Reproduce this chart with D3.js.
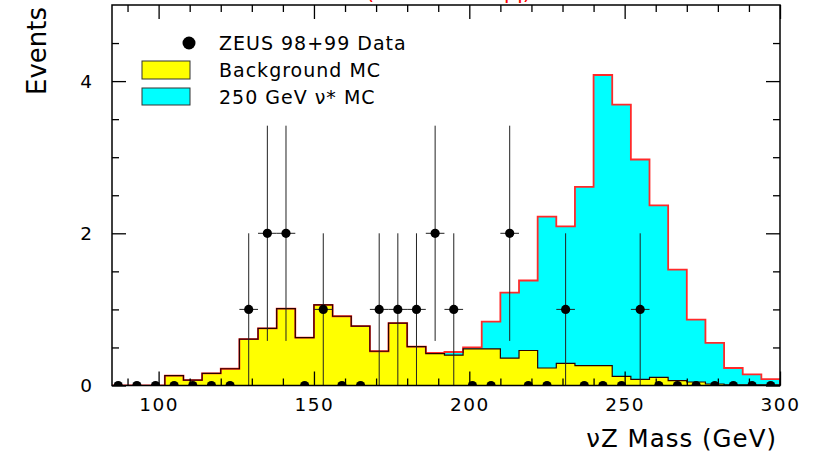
<!DOCTYPE html>
<html>
<head>
<meta charset="utf-8">
<script src="https://cdn.jsdelivr.net/npm/d3@7"></script>
<style>
  html, body { margin: 0; padding: 0; background: #fff; }
  svg { display: block; font-family: "DejaVu Sans", sans-serif; }
</style>
</head>
<body>
<svg id="chart" width="819" height="455"></svg>
<script>
// Histogram binning: 6 GeV bins from 84 to 300 GeV
const binEdges = d3.range(84, 301, 6);
const binCenters = binEdges.slice(0, -1).map(e => e + 3);

// Background MC expectation per bin
const background = [
  0, 0, 0, 0.13, 0.07, 0.16, 0.22, 0.61, 0.75, 1.01, 0.63, 1.06,
  0.91, 0.78, 0.45, 0.82, 0.51, 0.42, 0.40, 0.48, 0.48, 0.36, 0.46, 0.23,
  0.29, 0.26, 0.26, 0.12, 0.08, 0.107, 0.063, 0.046, 0.02, 0.01, 0.01, 0.01
];

// 250 GeV nu* signal MC per bin (stacked on top of background)
const signal = [
  0, 0, 0, 0, 0, 0, 0, 0, 0, 0, 0, 0,
  0, 0, 0, 0, 0, 0.01, 0.04, 0.02, 0.36, 0.86, 0.92, 1.99,
  1.80, 2.35, 3.82, 3.57, 2.89, 2.26, 1.46, 0.82, 0.54, 0.22, 0.135, 0.075
];

// Observed events per bin (ZEUS 98+99)
const dataCounts = [
  0, 0, 0, 0, 0, 0, 0, 1, 2, 2, 0, 1,
  0, 0, 1, 1, 1, 2, 1, 0, 0, 2, 0, 0,
  1, 0, 0, 0, 1, 0, 0, 0, 0, 0, 0, 0
];

const xMajorTicks = [100, 150, 200, 250, 300];
const yMajorTicks = [0, 2, 4];
const legendLabels = ["ZEUS 98+99 Data", "Background MC", "250 GeV \u03BD* MC"];

const svg = d3.select("#chart");
const mLeft = 112, mRight = 780, mTop = 5, mBottom = 385.5;

const x = d3.scaleLinear().domain([85, 300]).range([mLeft, mRight]);
const y = d3.scaleLinear().domain([0, 5]).range([mBottom, mTop]);

svg.append("defs").append("clipPath").attr("id", "plotClip")
  .append("rect").attr("x", mLeft).attr("y", mTop)
  .attr("width", mRight - mLeft).attr("height", mBottom - mTop);

const plot = svg.append("g").attr("clip-path", "url(#plotClip)");

// Build step outline points for a histogram
function stepPoints(values) {
  const pts = [[binEdges[0], 0]];
  values.forEach((v, i) => {
    pts.push([binEdges[i], v]);
    pts.push([binEdges[i + 1], v]);
  });
  pts.push([binEdges[binEdges.length - 1], 0]);
  return pts;
}

const total = background.map((b, i) => b + signal[i]);

const area = d3.area().x(d => x(d[0])).y0(y(0)).y1(d => y(d[1]));
const line = d3.line().x(d => x(d[0])).y(d => y(d[1]));

// Stacked total (signal + background)
plot.append("path").datum(stepPoints(total))
  .attr("d", area).attr("fill", "#00ffff");
// Background on top
plot.append("path").datum(stepPoints(background))
  .attr("d", area).attr("fill", "#ffff00");

plot.append("path").datum(stepPoints(total))
  .attr("d", line).attr("fill", "none")
  .attr("stroke", "#ff2a2a").attr("stroke-width", 1.8);
plot.append("path").datum(stepPoints(background))
  .attr("d", line).attr("fill", "none")
  .attr("stroke", "#2a0000").attr("stroke-width", 1.2);

// Data points with error bars
const pts = binCenters.map((c, i) => ({ c, n: dataCounts[i] }));
const eb = plot.append("g").attr("stroke", "#222").attr("stroke-width", 1);
eb.selectAll("line.h").data(pts).join("line").attr("class", "h")
  .attr("x1", d => x(d.c - 3)).attr("x2", d => x(d.c + 3))
  .attr("y1", d => y(d.n)).attr("y2", d => y(d.n));
eb.selectAll("line.v").data(pts.filter(d => d.n > 0)).join("line").attr("class", "v")
  .attr("x1", d => x(d.c)).attr("x2", d => x(d.c))
  .attr("y1", d => y(Math.max(0, d.n - Math.sqrt(d.n))))
  .attr("y2", d => y(d.n + Math.sqrt(d.n)));
plot.append("g").selectAll("circle").data(pts).join("circle")
  .attr("cx", d => x(d.c)).attr("cy", d => y(d.n)).attr("r", 4.6)
  .attr("fill", "#000");

// Axes: major + minor ticks on all four sides, pointing inward
const xMinor = d3.range(90, 301, 10).filter(v => !xMajorTicks.includes(v));
const yMinor = d3.range(0.5, 5, 0.5).filter(v => !yMajorTicks.includes(v));

function styleAxis(g) {
  g.select(".domain").remove();
  g.selectAll(".tick line").attr("stroke", "#000").attr("stroke-width", 1.3);
}

svg.append("g").attr("transform", `translate(0,${mBottom})`)
  .call(d3.axisBottom(x).tickValues(xMinor).tickSize(-7).tickFormat(""))
  .call(styleAxis);
const xAxis = svg.append("g").attr("transform", `translate(0,${mBottom})`)
  .call(d3.axisBottom(x).tickValues(xMajorTicks).tickFormat(d3.format("d"))
    .tickSizeInner(-14).tickSizeOuter(0).tickPadding(12))
  .call(styleAxis);
xAxis.selectAll("text").attr("font-size", 18.5).attr("letter-spacing", 1.5)
  .attr("font-family", "DejaVu Sans").attr("fill", "#000");

svg.append("g").attr("transform", `translate(0,${mTop})`)
  .call(d3.axisTop(x).tickValues(xMinor).tickSize(-7).tickFormat(""))
  .call(styleAxis);
svg.append("g").attr("transform", `translate(0,${mTop})`)
  .call(d3.axisTop(x).tickValues(xMajorTicks).tickSize(-14).tickFormat(""))
  .call(styleAxis);

svg.append("g").attr("transform", `translate(${mLeft},0)`)
  .call(d3.axisLeft(y).tickValues(yMinor).tickSize(-7).tickFormat(""))
  .call(styleAxis);
const yAxis = svg.append("g").attr("transform", `translate(${mLeft},0)`)
  .call(d3.axisLeft(y).tickValues(yMajorTicks).tickFormat(d3.format("d"))
    .tickSizeInner(-14).tickSizeOuter(0).tickPadding(20))
  .call(styleAxis);
yAxis.selectAll("text").attr("font-size", 18.5)
  .attr("font-family", "DejaVu Sans").attr("fill", "#000");

svg.append("g").attr("transform", `translate(${mRight},0)`)
  .call(d3.axisRight(y).tickValues(yMinor).tickSize(-7).tickFormat(""))
  .call(styleAxis);
svg.append("g").attr("transform", `translate(${mRight},0)`)
  .call(d3.axisRight(y).tickValues(yMajorTicks).tickSize(-14).tickFormat(""))
  .call(styleAxis);

// Frame
svg.append("rect").attr("x", mLeft).attr("y", mTop)
  .attr("width", mRight - mLeft).attr("height", mBottom - mTop)
  .attr("fill", "none").attr("stroke", "#000").attr("stroke-width", 1.5);

// Axis titles
svg.append("text").attr("x", 777).attr("y", 447).attr("text-anchor", "end")
  .attr("font-size", 24.5).attr("letter-spacing", 1).attr("fill", "#000")
  .text("\u03BDZ Mass (GeV)");
svg.append("text").attr("transform", "translate(46,51) rotate(-90)")
  .attr("text-anchor", "middle").attr("font-size", 26).attr("fill", "#000")
  .text("Events");

// Red title above the frame (only its lower edge falls inside the page)
svg.append("text").attr("x", 366).attr("y", -1)
  .attr("font-size", 21).attr("fill", "#ff0000")
  .text("(\u03BD* \u2192 \u03BDZ \u2192 \u03BDqq\u0304)");

// Legend
const legend = svg.append("g");
legend.append("circle").attr("cx", 189).attr("cy", 43).attr("r", 6.5).attr("fill", "#000");
legend.append("rect").attr("x", 142).attr("y", 61).attr("width", 48).attr("height", 18)
  .attr("fill", "#ffff00").attr("stroke", "#333").attr("stroke-width", 1);
legend.append("rect").attr("x", 142).attr("y", 88).attr("width", 48).attr("height", 17)
  .attr("fill", "#00ffff").attr("stroke", "#333").attr("stroke-width", 1);
legend.selectAll("text.leg").data(legendLabels).join("text").attr("class", "leg")
  .attr("x", 219).attr("y", (d, i) => 50 + i * 27)
  .attr("font-size", 19).attr("letter-spacing", 1).attr("fill", "#000")
  .text(d => d);
</script>
</body>
</html>
